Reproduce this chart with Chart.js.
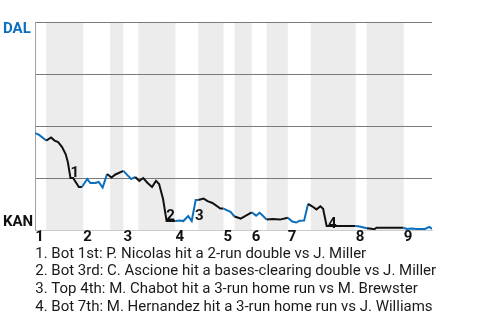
<!DOCTYPE html>
<html>
<head>
<meta charset="utf-8">
<script src="https://cdn.jsdelivr.net/npm/chart.js@4/dist/chart.umd.min.js"></script>
<style>
  html, body { margin: 0; padding: 0; background: #fff; }
  #wrap { width: 480px; height: 320px; position: relative; }
</style>
</head>
<body>
<div id="wrap"><canvas id="wpChart"></canvas></div>
<script>
// Win probability, one point per play (0 = KAN wins, 100 = DAL wins)
const playX = [0, 0.9, 2.5, 3.6, 4.4, 5.2, 6.1, 6.9, 7.4, 8.0,
  8.6, 9.9, 10.6, 11.8, 12.5, 13.6, 14.4, 15.3, 16.3, 17.3,
  18.2, 20.0, 20.9, 21.8, 22.7, 23.6, 24.5, 25.5, 26.5, 27.4,
  28.1, 29.0, 29.8, 31.8, 32.8, 33.6, 34.7, 35.5, 36.4, 37.0,
  38.2, 39.1, 40.2, 42.0, 42.7, 44.3, 45.2, 46.6, 47.8, 49.1,
  50.1, 50.9, 51.7, 52.5, 53.9, 55.5, 57.3, 58.3, 59.2, 60.0,
  61.0, 61.9, 62.8, 63.8, 64.7, 65.3, 66.1, 72.6, 73.6, 75.2,
  76.3, 76.9, 77.4, 83.5, 84.3, 85.4, 86.5, 88.4, 89.4, 90.0];
const winProb = [46.6, 45.7, 43.0, 44.5, 43.0, 42.3, 39.9, 36.5, 32.7, 25.0,
  25.0, 20.7, 20.7, 24.5, 22.6, 22.6, 23.1, 20.4, 26.9, 25.2,
  26.7, 28.4, 26.4, 24.5, 25.5, 23.6, 25.0, 22.6, 20.7, 23.6,
  22.1, 14.9, 4.3, 4.3, 4.6, 4.3, 6.7, 4.3, 14.4, 14.4,
  15.1, 13.9, 13.0, 10.3, 10.3, 8.7, 6.5, 5.5, 6.9, 8.5,
  6.9, 8.3, 6.7, 5.0, 5.3, 5.0, 5.9, 4.1, 3.6, 4.5,
  4.6, 12.6, 11.4, 9.9, 11.4, 10.2, 1.9, 1.9, 1.7, 0.8,
  0.6, 0.3, 1.1, 1.1, 0.5, 0.7, 0.5, 0.5, 1.5, 0.5];

// half-inning boundaries (in plays)
const topStart = [0, 10.9, 20.0, 31.8, 42.7, 49.1, 57.3, 72.7, 83.6];
const botStart = [2.5, 17.0, 23.4, 37.0, 45.2, 52.5, 62.5, 75.2];
const gameEnd = 90;
const innings = ["1", "2", "3", "4", "5", "6", "7", "8", "9"];
const teams = ["DAL", "KAN"];

// key plays: where the marker number sits
const eventX = [9.0, 30.7, 37.2, 67.4];
const eventY = [27.4, 6.7, 6.7, 2.9];
const notes = [
  "1. Bot 1st: P. Nicolas hit a 2-run double vs J. Miller",
  "2. Bot 3rd: C. Ascione hit a bases-clearing double vs J. Miller",
  "3. Top 4th: M. Chabot hit a 3-run home run vs M. Brewster",
  "4. Bot 7th: M. Hernandez hit a 3-run home run vs J. Williams",
];

const BLUE = "#0b6fbe";
const BLACK = "#111111";

const halfColor = (x) => {
  let t = -1, b = -1;
  topStart.forEach((v) => { if (v < x) t = v; });
  botStart.forEach((v) => { if (v < x) b = v; });
  return b > t ? BLACK : BLUE;
};

// shaded bottom halves
const bandPlugin = {
  id: "bands",
  beforeDraw(chart) {
    const { ctx, chartArea, scales } = chart;
    ctx.save();
    ctx.fillStyle = "#ececec";
    botStart.forEach((s, i) => {
      const e = i + 1 < topStart.length ? topStart[i + 1] : gameEnd;
      const x0 = scales.x.getPixelForValue(s);
      const x1 = scales.x.getPixelForValue(e);
      ctx.fillRect(x0, chartArea.top, x1 - x0, chartArea.bottom - chartArea.top);
    });
    ctx.restore();
  },
};

// event numbers + notes
const notesPlugin = {
  id: "notes",
  afterDraw(chart) {
    const { ctx, chartArea, scales } = chart;
    ctx.save();
    ctx.fillStyle = BLACK;
    ctx.font = "bold 15px Roboto";
    ctx.textAlign = "center";
    ctx.textBaseline = "middle";
    eventX.forEach((x, i) => {
      ctx.fillText(String(i + 1), scales.x.getPixelForValue(x), scales.y.getPixelForValue(eventY[i]));
    });
    ctx.font = "15px Roboto";
    ctx.fillStyle = "#1a1a1a";
    ctx.textAlign = "left";
    notes.forEach((t, i) => {
      ctx.fillText(t, chartArea.left, chartArea.bottom + 24 + i * 17.7);
    });
    ctx.restore();
  },
};

new Chart(document.getElementById("wpChart").getContext("2d"), {
  type: "line",
  data: {
    datasets: [
      {
        data: playX.map((x, i) => ({ x: x, y: winProb[i] })),
        borderWidth: 2,
        borderColor: BLACK,
        pointRadius: 0,
        tension: 0,
        segment: {
          borderColor: (ctx) => halfColor(ctx.p1.parsed.x),
        },
      },
    ],
  },
  options: {
    responsive: true,
    maintainAspectRatio: false,
    animation: false,
    layout: { padding: { left: 3, right: 48, top: 22, bottom: 75 } },
    plugins: {
      legend: { display: false },
      tooltip: { enabled: false },
    },
    scales: {
      x: {
        type: "linear",
        min: 0,
        max: gameEnd,
        afterBuildTicks: (scale) => {
          scale.ticks = topStart.map((v) => ({ value: v }));
        },
        grid: { display: false, drawTicks: false },
        border: { color: "#cccccc" },
        ticks: {
          callback: (v, i) => innings[i],
          align: "start",
          padding: 0,
          color: BLACK,
          autoSkip: false,
          maxRotation: 0,
          font: { family: "Roboto", size: 15, weight: "bold", lineHeight: 1.0 },
        },
      },
      y: {
        min: 0,
        max: 100,
        grid: {
          drawTicks: false,
          color: (ctx) => (ctx.tick.value === 0 ? "#cccccc" : "#7a7a7a"),
        },
        border: { color: "#a0a0a0" },
        ticks: {
          stepSize: 25,
          padding: 1,
          crossAlign: "far",
          callback: (v) => (v === 100 ? ["", teams[0]] : v === 0 ? [teams[1], ""] : ""),
          color: (ctx) => (ctx.tick.value === 100 ? BLUE : BLACK),
          font: { family: "Roboto", size: 15, weight: "bold", lineHeight: 1.0 },
        },
      },
    },
  },
  plugins: [bandPlugin, notesPlugin],
});
</script>
</body>
</html>
